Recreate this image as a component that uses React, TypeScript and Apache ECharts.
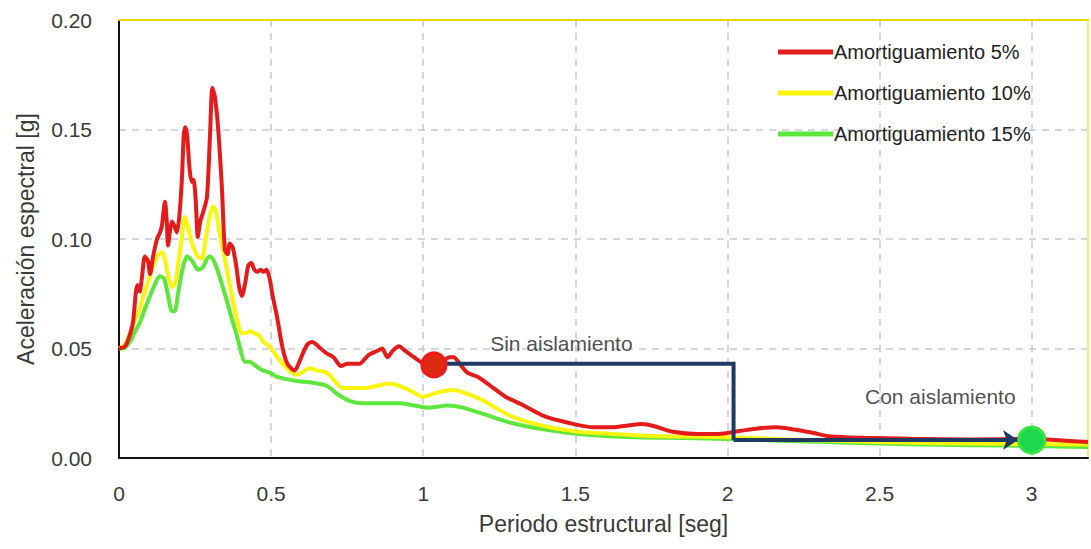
import React, { useEffect, useRef } from "react";
import * as echarts from "echarts";

// Periods [s] and spectral accelerations [g]
const red5: [number, number][] = [
  [0, 0.05], [0.02, 0.051], [0.035, 0.056], [0.046, 0.062], [0.055, 0.075], [0.06, 0.079],
  [0.068, 0.076], [0.075, 0.082], [0.085, 0.092], [0.095, 0.09], [0.102, 0.084], [0.112, 0.092],
  [0.125, 0.1], [0.135, 0.103], [0.141, 0.106], [0.151, 0.117], [0.157, 0.108], [0.161, 0.097],
  [0.168, 0.104], [0.174, 0.108], [0.182, 0.106], [0.19, 0.103], [0.198, 0.11], [0.207, 0.128],
  [0.213, 0.148], [0.218, 0.151], [0.224, 0.147], [0.232, 0.132], [0.239, 0.126], [0.245, 0.127],
  [0.252, 0.118], [0.259, 0.101], [0.267, 0.108], [0.276, 0.112], [0.289, 0.119], [0.299, 0.147],
  [0.307, 0.169], [0.315, 0.165], [0.325, 0.152], [0.338, 0.124], [0.348, 0.095], [0.357, 0.093],
  [0.364, 0.098], [0.374, 0.096], [0.385, 0.088], [0.395, 0.078], [0.404, 0.074], [0.415, 0.08],
  [0.425, 0.088], [0.435, 0.089], [0.445, 0.086], [0.455, 0.085], [0.465, 0.086], [0.475, 0.085],
  [0.485, 0.086], [0.495, 0.082], [0.505, 0.074], [0.52, 0.064], [0.535, 0.052], [0.55, 0.044],
  [0.565, 0.041], [0.578, 0.04], [0.59, 0.043], [0.605, 0.048], [0.62, 0.052], [0.636, 0.053],
  [0.655, 0.051], [0.68, 0.048], [0.705, 0.046], [0.73, 0.042], [0.75, 0.043], [0.77, 0.043],
  [0.79, 0.043], [0.82, 0.047], [0.85, 0.049], [0.865, 0.05], [0.882, 0.046], [0.9, 0.049],
  [0.92, 0.051], [0.94, 0.049], [0.96, 0.047], [0.99, 0.044], [1.03, 0.041], [1.06, 0.043],
  [1.085, 0.046], [1.1, 0.046], [1.12, 0.043], [1.145, 0.039], [1.18, 0.037], [1.23, 0.032],
  [1.27, 0.028], [1.33, 0.024], [1.4, 0.019], [1.48, 0.016], [1.56, 0.014], [1.62, 0.014],
  [1.68, 0.015], [1.72, 0.0155], [1.76, 0.0145], [1.82, 0.012], [1.9, 0.011], [1.97, 0.011],
  [2.04, 0.0123], [2.1, 0.0135], [2.16, 0.014], [2.22, 0.013], [2.28, 0.0115], [2.34, 0.0098],
  [2.45, 0.0092], [2.6, 0.0088], [2.8, 0.0085], [3.0, 0.0087], [3.1, 0.008], [3.185, 0.0073],
];

const yellow10: [number, number][] = [
  [0, 0.05], [0.02, 0.052], [0.036, 0.057], [0.05, 0.062], [0.065, 0.067], [0.08, 0.074],
  [0.095, 0.08], [0.111, 0.087], [0.125, 0.092], [0.141, 0.094], [0.152, 0.09], [0.162, 0.083],
  [0.174, 0.078], [0.185, 0.08], [0.196, 0.09], [0.207, 0.101], [0.216, 0.11], [0.226, 0.106],
  [0.24, 0.098], [0.259, 0.092], [0.272, 0.091], [0.285, 0.1], [0.299, 0.111], [0.308, 0.115],
  [0.318, 0.113], [0.33, 0.103], [0.348, 0.091], [0.36, 0.082], [0.374, 0.072], [0.39, 0.062],
  [0.403, 0.057], [0.418, 0.057], [0.43, 0.058], [0.445, 0.057], [0.46, 0.056], [0.475, 0.053],
  [0.495, 0.051], [0.515, 0.047], [0.538, 0.043], [0.56, 0.04], [0.58, 0.038], [0.6, 0.039],
  [0.626, 0.041], [0.65, 0.04], [0.682, 0.039], [0.71, 0.035], [0.734, 0.032], [0.77, 0.032],
  [0.81, 0.032], [0.85, 0.033], [0.89, 0.034], [0.92, 0.033], [0.955, 0.031], [1.0, 0.028],
  [1.05, 0.03], [1.1, 0.031], [1.15, 0.029], [1.2, 0.026], [1.29, 0.019], [1.4, 0.0145],
  [1.51, 0.012], [1.62, 0.011], [1.73, 0.0102], [1.85, 0.0098], [2.0, 0.0095], [2.2, 0.0085],
  [2.4, 0.0077], [2.6, 0.007], [2.8, 0.0066], [3.0, 0.0064], [3.185, 0.0062],
];

const green15: [number, number][] = [
  [0, 0.05], [0.015, 0.05], [0.036, 0.053], [0.05, 0.057], [0.069, 0.062], [0.085, 0.068],
  [0.102, 0.074], [0.12, 0.08], [0.134, 0.083], [0.148, 0.082], [0.16, 0.075], [0.174, 0.067],
  [0.183, 0.067], [0.195, 0.076], [0.21, 0.087], [0.223, 0.092], [0.24, 0.09], [0.26, 0.086],
  [0.275, 0.087], [0.29, 0.091], [0.3, 0.092], [0.315, 0.089], [0.33, 0.083], [0.354, 0.072],
  [0.37, 0.064], [0.387, 0.056], [0.4, 0.049], [0.413, 0.044], [0.43, 0.044], [0.45, 0.042],
  [0.472, 0.04], [0.495, 0.039], [0.52, 0.037], [0.551, 0.036], [0.59, 0.035], [0.626, 0.0346],
  [0.682, 0.033], [0.72, 0.029], [0.76, 0.026], [0.8, 0.025], [0.86, 0.025], [0.92, 0.025],
  [0.97, 0.024], [1.02, 0.023], [1.08, 0.024], [1.13, 0.023], [1.2, 0.02], [1.29, 0.016],
  [1.4, 0.013], [1.51, 0.011], [1.65, 0.0097], [1.8, 0.0092], [2.0, 0.0087], [2.2, 0.0078],
  [2.4, 0.007], [2.6, 0.0063], [2.8, 0.0058], [3.0, 0.0055], [3.185, 0.005],
];

const seriesNames = ["Amortiguamiento 5%", "Amortiguamiento 10%", "Amortiguamiento 15%"];

// Design points and transition path
const pointSin: [number, number][] = [[1.035, 0.0425]];
const pointCon: [number, number][] = [[3.0, 0.0082]];
const pathStep: [number, number][] = [[1.035, 0.043], [2.02, 0.043], [2.02, 0.0082]];
const pathArrow: [number, number][] = [[2.02, 0.0082], [2.955, 0.0082]];
const annotations: [number, number, string][] = [
  [1.22, 0.0525, "Sin aislamiento"],
  [2.452, 0.0279, "Con aislamiento"],
];

const xTicks = { min: 0, max: 3.185, interval: 0.5 };
const yTicks = { min: 0, max: 0.2, interval: 0.05 };

const FONT = "'Liberation Sans', Arial, sans-serif";
const TEXT = "#3a3a3a";

export default function App() {
  const ref = useRef<HTMLDivElement>(null);
  useEffect(() => {
    if (!ref.current) return;
    const chart = echarts.init(ref.current, undefined, { renderer: "svg" });
    const split = { show: true, lineStyle: { color: "#c8c8d2", width: 1.5, type: [7, 6] as any } };
    const lineSeries = (name: string, data: [number, number][], color: string, z: number) => ({
      name,
      type: "line",
      data,
      showSymbol: false,
      smooth: 0.25,
      lineStyle: { color, width: 4 },
      itemStyle: { color },
      z,
    });
    chart.setOption({
      animation: false,
      backgroundColor: "#ffffff",
      textStyle: { fontFamily: FONT },
      grid: { left: 119, top: 20, right: 3, bottom: 91, outerBoundsMode: "none" } as any,
      legend: {
        orient: "vertical",
        left: 773,
        top: 37,
        itemWidth: 55,
        itemHeight: 5,
        itemGap: 21,
        icon: "rect",
        data: seriesNames,
        textStyle: { fontSize: 20, color: "#222", fontFamily: FONT, padding: [0, 0, 0, -4] },
      },
      xAxis: [
        {
          type: "value",
          ...xTicks,
          name: "Periodo estructural [seg]",
          nameLocation: "middle",
          nameGap: 54,
          nameTextStyle: { fontSize: 23, color: TEXT, fontFamily: FONT },
          axisLine: { show: true, onZero: false, lineStyle: { color: "#111", width: 2 } },
          axisTick: { show: false },
          axisLabel: { fontSize: 21, color: TEXT, margin: 25, showMaxLabel: false, fontFamily: FONT },
          splitLine: split,
        },
        {
          type: "value",
          position: "top",
          ...xTicks,
          axisLine: { show: true, onZero: false, lineStyle: { color: "#f0d400", width: 2 } },
          axisTick: { show: false },
          axisLabel: { show: false },
          splitLine: { show: false },
        },
      ],
      yAxis: [
        {
          type: "value",
          ...yTicks,
          name: "Aceleración espectral [g]",
          nameLocation: "middle",
          nameGap: 82,
          nameTextStyle: { fontSize: 23, color: TEXT, fontFamily: FONT },
          axisLine: { show: true, onZero: false, lineStyle: { color: "#111", width: 2 } },
          axisTick: { show: false },
          axisLabel: {
            fontSize: 21,
            color: TEXT,
            margin: 27,
            fontFamily: FONT,
            formatter: (v: number) => v.toFixed(2),
          },
          splitLine: split,
        },
        {
          type: "value",
          position: "right",
          ...yTicks,
          axisLine: { show: true, onZero: false, lineStyle: { color: "#f5e97a", width: 2 } },
          axisTick: { show: false },
          axisLabel: { show: false },
          splitLine: { show: false },
        },
      ],
      series: [
        lineSeries(seriesNames[2], green15, "#5fe63c", 2),
        lineSeries(seriesNames[1], yellow10, "#f9f50f", 3),
        lineSeries(seriesNames[0], red5, "#e41b1b", 4),
        {
          type: "line",
          data: pathStep,
          showSymbol: false,
          lineStyle: { color: "#1f3864", width: 4, join: "miter", cap: "butt" },
          z: 5,
          silent: true,
        },
        {
          type: "lines",
          coordinateSystem: "cartesian2d",
          data: [{ coords: pathArrow }],
          symbol: ["none", "arrow"],
          symbolSize: [0, 15],
          lineStyle: { color: "#1f3864", width: 4, opacity: 1 },
          z: 5,
          silent: true,
        },
        {
          type: "scatter",
          data: pointSin,
          symbolSize: 24,
          itemStyle: { color: "#dd2a12", borderColor: "#f01a1a", borderWidth: 3, opacity: 1 },
          z: 6,
        },
        {
          type: "scatter",
          data: pointCon,
          symbolSize: 26,
          itemStyle: { color: "#1ed650", borderColor: "#33e63a", borderWidth: 3, opacity: 1 },
          z: 6,
        },
        {
          type: "scatter",
          data: annotations,
          symbolSize: 0,
          label: {
            show: true,
            position: "right",
            distance: 0,
            formatter: (p: any) => p.data[2],
            fontSize: 21,
            color: "#222",
            fontFamily: FONT,
          },
          z: 7,
        },
      ],
    } as any);
    return () => chart.dispose();
  }, []);
  return (
    <div style={{ position: "absolute", left: 0, top: 0, width: 1091, height: 549 }}>
      <div ref={ref} style={{ width: 1091, height: 549 }} />
    </div>
  );
}
